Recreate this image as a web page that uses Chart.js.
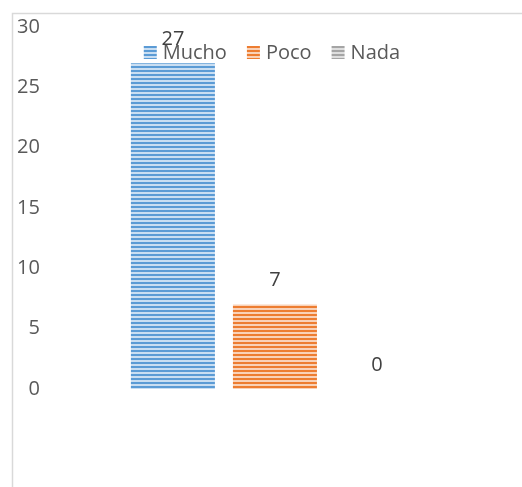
<!DOCTYPE html>
<html>
<head>
<meta charset="utf-8">
<script src="https://cdn.jsdelivr.net/npm/chart.js@4.4.1/dist/chart.umd.min.js"></script>
<style>
  html, body { margin: 0; padding: 0; background: #fff; }
  #wrap { width: 522px; height: 487px; position: relative; }
</style>
</head>
<body>
<div id="wrap"><canvas id="answerChart" width="522" height="487"></canvas></div>
<script>
// data
let categories = [''];
let seriesNames = ['Mucho', 'Poco', 'Nada'];
let seriesValues = [[27], [7], [0]];
let yTicks = [0, 5, 10, 15, 20, 25, 30];

let darkColors = ['#5b9bd5', '#ed7d31', '#a5a5a5'];
let lightColors = ['#c9def2', '#f9d2b8', '#dedede'];
let textColor = '#595959';
let labelColor = '#404040';
let fontFamily = "'Open Sans', sans-serif";

Chart.defaults.font.family = fontFamily;
Chart.defaults.font.size = 20;
Chart.defaults.color = textColor;

// horizontal stripe fill like the office "narrow horizontal" pattern
function stripes(dark, light) {
  let c = document.createElement('canvas');
  c.width = 4;
  c.height = 4;
  let p = c.getContext('2d');
  p.fillStyle = light;
  p.fillRect(0, 0, 4, 4);
  p.fillStyle = dark;
  p.fillRect(0, 2, 4, 2);
  return p.createPattern(c, 'repeat');
}

let ctx = document.getElementById('answerChart').getContext('2d');

let datasets = seriesNames.map(function (name, i) {
  return {
    label: name,
    data: seriesValues[i],
    backgroundColor: stripes(darkColors[i], lightColors[i]),
    borderWidth: 0,
    categoryPercentage: 0.674,
    barPercentage: 0.8235
  };
});

// light frame round the chart, clipped at right and bottom
const framePlugin = {
  id: 'frame',
  beforeDraw(chart) {
    let c = chart.ctx;
    c.save();
    c.strokeStyle = '#d9d9d9';
    c.lineWidth = 1.5;
    c.beginPath();
    c.moveTo(12.5, chart.height);
    c.lineTo(12.5, 13.5);
    c.lineTo(chart.width, 13.5);
    c.stroke();
    c.restore();
  }
};

// value labels above each bar
const valueLabels = {
  id: 'valueLabels',
  afterDatasetsDraw(chart) {
    let c = chart.ctx;
    c.save();
    c.font = '20px ' + fontFamily;
    c.fillStyle = labelColor;
    c.textAlign = 'center';
    c.textBaseline = 'middle';
    chart.data.datasets.forEach(function (ds, i) {
      chart.getDatasetMeta(i).data.forEach(function (bar, j) {
        c.fillText(ds.data[j], bar.x, bar.y - 24);
      });
    });
    c.restore();
  }
};

// legend drawn over the plot, centred near the top
const overlayLegend = {
  id: 'overlayLegend',
  afterDraw(chart) {
    let c = chart.ctx;
    let area = chart.chartArea;
    let box = 13, gap = 6, spacing = 20;
    c.save();
    c.font = '20px ' + fontFamily;
    c.textBaseline = 'middle';
    let items = chart.data.datasets.map(function (ds) {
      return { ds: ds, w: c.measureText(ds.label).width };
    });
    let total = items.reduce(function (s, it) { return s + box + gap + it.w; }, 0) + spacing * (items.length - 1);
    let x = (area.left + area.right) / 2 - total / 2 - 3;
    let y = 52;
    items.forEach(function (it) {
      c.fillStyle = it.ds.backgroundColor;
      c.fillRect(x, y - 6, box, box);
      c.fillStyle = textColor;
      c.fillText(it.ds.label, x + box + gap, y + 1);
      x += box + gap + it.w + spacing;
    });
    c.restore();
  }
};

new Chart(ctx, {
  type: 'bar',
  data: {
    labels: categories,
    datasets: datasets
  },
  options: {
    responsive: false,
    animation: false,
    layout: {
      padding: { left: 9, right: 20, top: 27, bottom: 98 }
    },
    scales: {
      x: {
        display: false
      },
      y: {
        min: 0,
        max: 30,
        afterBuildTicks: function (axis) {
          axis.ticks = yTicks.map(function (v) { return { value: v }; });
        },
        grid: { display: false, drawTicks: false },
        border: { display: false },
        ticks: {
          padding: 8,
          color: textColor,
          font: { size: 20 }
        }
      }
    },
    plugins: {
      legend: { display: false },
      tooltip: { enabled: false }
    }
  },
  plugins: [framePlugin, valueLabels, overlayLegend]
});
</script>
</body>
</html>
